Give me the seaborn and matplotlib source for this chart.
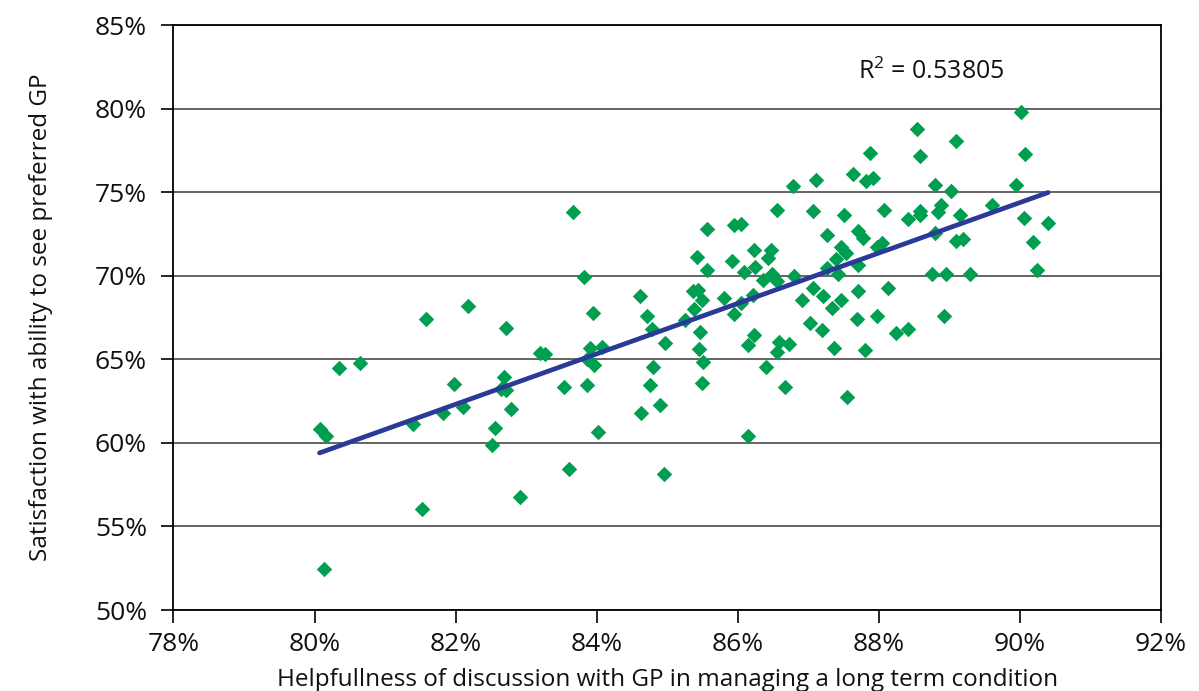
import numpy as np
import pandas as pd
import seaborn as sns
import matplotlib.pyplot as plt
from matplotlib.ticker import MultipleLocator, FuncFormatter

# helpfulness of discussion with GP (%)
helpfulness = [
    80.07, 80.16, 80.34, 80.64, 81.40, 81.58, 81.82, 81.97, 82.11, 82.18,
    82.56, 82.51, 80.14, 81.52, 82.71, 82.69, 82.65, 82.72, 82.79, 82.91,
    83.20, 83.26, 83.54, 83.61, 83.67, 83.82, 83.95, 83.86, 83.91, 84.08,
    83.86, 83.96, 84.02, 84.62, 84.71, 84.78, 84.97, 84.80, 84.76, 84.63,
    84.90, 84.96, 85.42, 85.57, 85.57, 85.36, 85.44, 85.49, 85.38, 85.25,
    85.46, 85.45, 85.51, 85.49, 85.80, 85.95, 86.04, 85.92, 85.95, 86.09,
    86.14, 86.15,
    87.87, 88.58, 87.64, 87.82, 87.92, 87.11, 86.78, 86.55, 87.06, 87.50,
    88.07, 88.41, 88.59, 88.59, 87.26, 87.71, 87.78, 87.47, 87.54, 88.05,
    87.98, 86.23, 86.47, 86.43, 87.39, 86.25, 86.49, 86.55, 86.36, 86.80,
    87.26, 87.42, 87.71, 86.21, 86.05, 86.91, 87.06, 87.21, 87.33,
    87.47, 87.71, 88.13, 87.02, 87.19, 87.69, 87.98, 88.25, 88.41, 86.23,
    86.58, 86.72, 86.55, 86.40, 86.67, 87.36, 87.80, 87.55,
    90.02, 88.54, 89.10, 90.07, 88.80, 89.02, 89.94, 88.88, 88.84, 89.15,
    89.61, 90.06, 90.40, 88.80, 89.09, 89.19, 90.19, 88.76, 88.95, 89.29,
    90.24, 88.93,
]

# satisfaction with ability to see preferred GP (%)
satisfaction = [
    60.81, 60.43, 64.48, 64.78, 61.13, 67.41, 61.78, 63.54, 62.13, 68.17,
    60.91, 59.85, 52.47, 56.02, 66.86, 63.94, 63.25, 63.19, 62.01, 56.78,
    65.38, 65.30, 63.37, 58.45, 73.82, 69.93, 67.80, 63.44, 65.68, 65.74,
    65.04, 64.66, 60.65, 68.77, 67.62, 66.80, 66.00, 64.54, 63.46, 61.78,
    62.29, 58.16, 71.11, 72.77, 70.33, 69.07, 69.17, 68.57, 67.99, 67.34,
    66.63, 65.62, 64.84, 63.58, 68.67, 73.02, 73.08, 70.87, 67.69, 70.21,
    65.88, 60.41,
    77.32, 77.17, 76.08, 75.68, 75.82, 75.70, 75.36, 73.92, 73.90, 73.66,
    73.92, 73.37, 73.86, 73.62, 72.43, 72.68, 72.23, 71.72, 71.37, 71.96,
    71.73, 71.53, 71.53, 71.09, 71.03, 70.51, 70.13, 69.67, 69.73, 69.97,
    70.47, 70.13, 70.63, 68.83, 68.37, 68.57, 69.27, 68.77, 68.07,
    68.53, 69.07, 69.27, 67.20, 66.74, 67.40, 67.62, 66.56, 66.80, 66.48,
    66.04, 65.94, 65.44, 64.54, 63.36, 65.68, 65.54, 62.74,
    79.79, 78.75, 78.09, 77.26, 75.42, 75.08, 75.42, 74.26, 73.79, 73.66,
    74.22, 73.46, 73.14, 72.53, 72.07, 72.19, 71.99, 70.13, 70.13, 70.09,
    70.35, 67.59,
]

r_squared_label = r"R$^2$ = 0.53805"

df = pd.DataFrame({"help": helpfulness, "sat": satisfaction})

sns.set_style("white")
plt.rcParams["font.family"] = ["Open Sans", "DejaVu Sans"]
plt.rcParams["mathtext.fontset"] = "custom"
plt.rcParams["mathtext.rm"] = "Open Sans"

fig = plt.figure(figsize=(11.99, 6.91), dpi=100)
ax = fig.add_axes([0.1447, 0.1172, 0.8236, 0.8466])

sns.regplot(
    data=df, x="help", y="sat", ax=ax, ci=None,
    marker="D",
    scatter_kws={"color": "#009E50", "alpha": 1, "s": 62, "linewidths": 0,
                 "zorder": 3},
    line_kws={"color": "#2B3A98", "linewidth": 3.4, "zorder": 4,
              "solid_capstyle": "round"},
)

ax.set_xlim(78, 92)
ax.set_ylim(50, 85)
ax.xaxis.set_major_locator(MultipleLocator(2))
ax.yaxis.set_major_locator(MultipleLocator(5))
pct = FuncFormatter(lambda v, _: f"{v:.0f}%")
ax.xaxis.set_major_formatter(pct)
ax.yaxis.set_major_formatter(pct)

ax.grid(axis="y", color="#4a4a4a", linewidth=1.2)
ax.grid(axis="x", visible=False)
ax.set_axisbelow(True)
for side in ["left", "bottom", "top", "right"]:
    ax.spines[side].set_visible(True)
    ax.spines[side].set_color("black")
    ax.spines[side].set_linewidth(1.3)

ax.tick_params(axis="both", which="major", direction="out", length=9,
               width=1.2, color="black", labelsize=19, labelcolor="#111111",
               bottom=True, left=True)
ax.tick_params(axis="y", pad=10)
ax.tick_params(axis="x", pad=7)

ax.set_xlabel("Helpfullness of discussion with GP in managing a long term condition",
              fontsize=17.5, color="#111111", labelpad=8)
ax.set_ylabel("Satisfaction with ability to see preferred GP",
              fontsize=17.5, color="#111111", labelpad=30)

ax.text(87.7, 82.2, r_squared_label, fontsize=18, color="#111111",
        ha="left", va="center")

fig.savefig("out.png", dpi=100)
